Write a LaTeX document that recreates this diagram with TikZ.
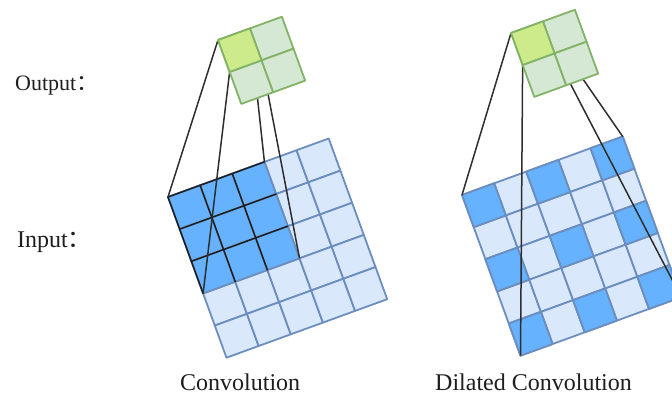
\documentclass[tikz,border=0pt]{standalone}
\usepackage{fontspec}
\setmainfont{Liberation Serif}
\newfontfamily\cjk{Noto Sans CJK SC}
\usetikzlibrary{calc}

\definecolor{cellfill}{HTML}{DAE8FC}
\definecolor{cellline}{HTML}{6C8EBF}
\definecolor{hotfill}{HTML}{66B2FF}
\definecolor{outfill}{HTML}{D5E8D4}
\definecolor{outline}{HTML}{82B366}
\definecolor{outhot}{HTML}{CDEB8B}
\definecolor{wire}{HTML}{2E2E2E}
\definecolor{ink}{HTML}{1E1E1E}

\begin{document}
\begin{tikzpicture}[x=1pt,y=-1pt,
  cell/.style={fill=cellfill, draw=cellline, line width=1.8pt, line join=round},
  hotcell/.style={fill=hotfill, draw=cellline, line width=1.8pt, line join=round},
  hotgrid/.style={draw=ink, line width=1.5pt, line cap=round},
  ocell/.style={fill=outfill, draw=outline, line width=1.8pt, line join=round},
  ohot/.style={fill=outhot, draw=outline, line width=1.8pt, line join=round},
  wire/.style={draw=wire, line width=1.5pt},
  lbl/.style={text=ink, inner sep=0pt, anchor=base west}]
\useasboundingbox (0,0) rectangle (672,399);
\clip (0,0) rectangle (672,399);

% ---------- standard convolution: 5x5 input, 3x3 receptive field ----------
\begin{scope}[shift={(168,197)}, x={(32.14pt,11.70pt)}, y={(11.70pt,-32.14pt)}]
  \foreach \i in {0,...,4}
    \foreach \j in {0,...,4}
      \draw[cell] (\i,\j) -- (\i+1,\j) -- (\i+1,\j+1) -- (\i,\j+1) -- cycle;
  \foreach \i in {0,1,2}
    \foreach \j in {0,1,2}
      \draw[hotcell] (\i,\j) -- (\i+1,\j) -- (\i+1,\j+1) -- (\i,\j+1) -- cycle;
  \draw[hotgrid] (0,3) -- (0,0) -- (3,0);
  \draw[hotgrid] (1,0) -- (1,3) (2,0) -- (2,3) (0,1) -- (3,1) (0,2) -- (3,2);
  \coordinate (Lia) at (0,0);
  \coordinate (Lib) at (3,0);
  \coordinate (Lic) at (0,3);
  \coordinate (Lid) at (3,3);
\end{scope}

% ---------- dilated convolution: 5x5 input, dilation 2 ----------
\begin{scope}[shift={(462,195)}, x={(32.14pt,11.70pt)}, y={(11.70pt,-32.14pt)}]
  \foreach \i in {0,...,4}
    \foreach \j in {0,...,4}
      \draw[cell] (\i,\j) -- (\i+1,\j) -- (\i+1,\j+1) -- (\i,\j+1) -- cycle;
  \foreach \i in {0,2,4}
    \foreach \j in {0,2,4}
      \draw[hotcell] (\i,\j) -- (\i+1,\j) -- (\i+1,\j+1) -- (\i,\j+1) -- cycle;
  \coordinate (Ria) at (0,0);
  \coordinate (Rib) at (5,0);
  \coordinate (Ric) at (0,5);
  \coordinate (Rid) at (5,5);
\end{scope}

% ---------- output cell corners ----------
\begin{scope}[shift={(218,40)}, x={(31.95pt,11.63pt)}, y={(11.63pt,-31.95pt)}]
  \coordinate (Loa) at (0,0);
  \coordinate (Lob) at (1,0);
  \coordinate (Loc) at (0,1);
  \coordinate (Lod) at (1,1);
\end{scope}
\begin{scope}[shift={(511,33)}, x={(31.95pt,11.63pt)}, y={(11.63pt,-31.95pt)}]
  \coordinate (Roa) at (0,0);
  \coordinate (Rob) at (1,0);
  \coordinate (Roc) at (0,1);
  \coordinate (Rod) at (1,1);
\end{scope}

% ---------- receptive-field connectors ----------
\draw[wire] (Loa) -- (Lia);
\draw[wire] (Lob) -- (Lib);
\draw[wire] (Loc) -- (Lic);
\draw[wire] (Lod) -- (Lid);
\draw[wire] (Roa) -- (Ria);
\draw[wire] (Rob) -- (Rib);
\draw[wire] (Roc) -- (Ric);
\draw[wire] (Rod) -- (Rid);

% ---------- 2x2 outputs ----------
\foreach \ox/\oy in {218/40, 511/33} {
  \begin{scope}[shift={(\ox,\oy)}, x={(31.95pt,11.63pt)}, y={(11.63pt,-31.95pt)}]
    \foreach \i in {0,1}
      \foreach \j in {0,1}
        \draw[ocell] (\i,\j) -- (\i+1,\j) -- (\i+1,\j+1) -- (\i,\j+1) -- cycle;
    \draw[ohot] (0,0) -- (1,0) -- (1,1) -- (0,1) -- cycle;
  \end{scope}
}

% ---------- labels ----------
\node[lbl, font=\fontsize{22}{26}\selectfont] (outlbl) at (15,90) {Output{\cjk ：}};
\node[lbl, font=\fontsize{24}{28}\selectfont] (inlbl) at (17,247) {Input{\cjk ：}};
\node[lbl, font=\fontsize{24}{28}\selectfont] (convlbl) at (180,390) {Convolution};
\node[lbl, font=\fontsize{24}{28}\selectfont] (dillbl) at (435,390) {Dilated Convolution};
\end{tikzpicture}
\end{document}
